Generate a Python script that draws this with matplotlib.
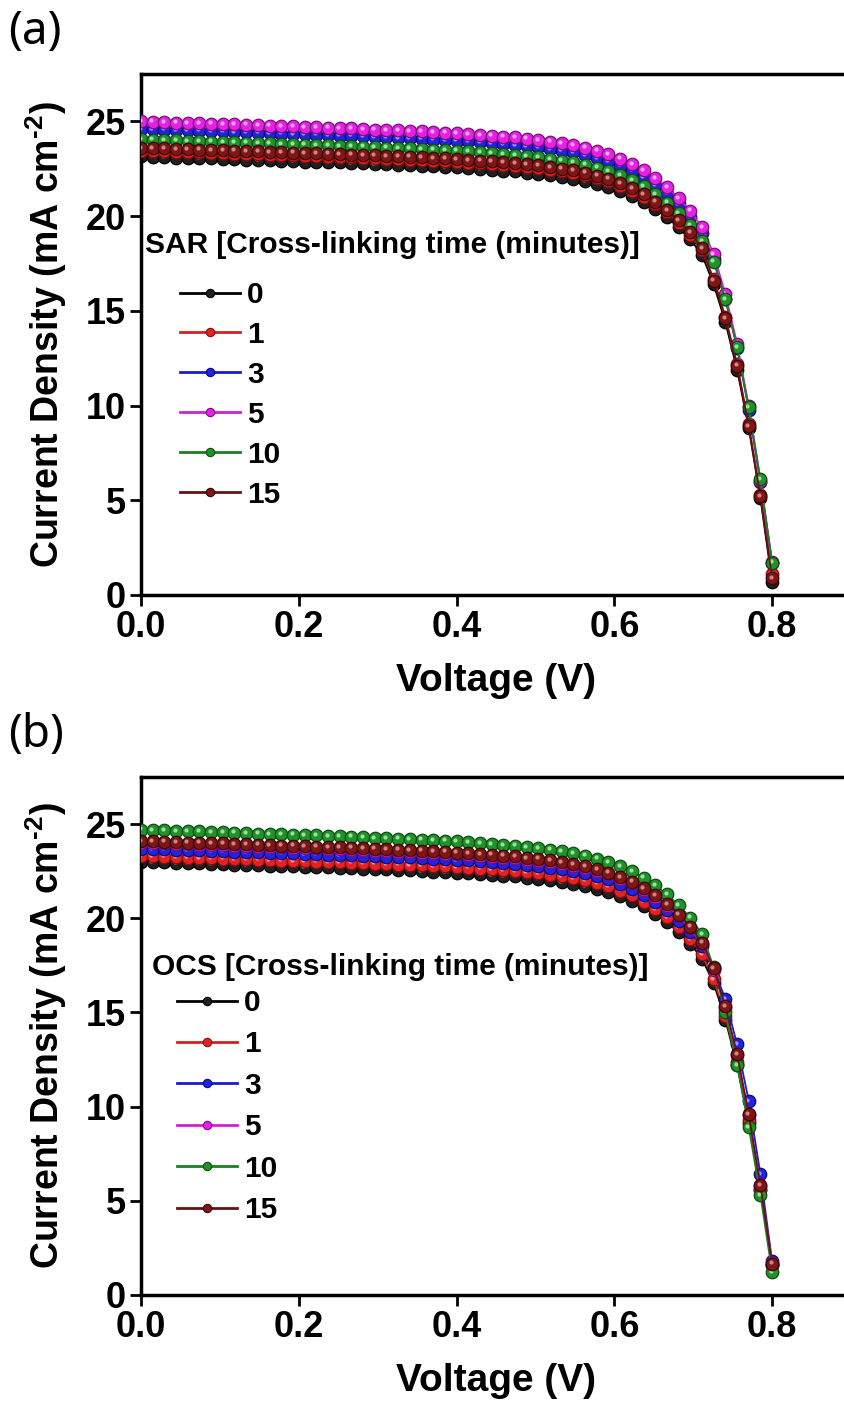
import matplotlib
matplotlib.use("Agg")
import matplotlib.pyplot as plt
from matplotlib.lines import Line2D
from matplotlib.transforms import offset_copy

plt.rcParams['font.family'] = ['Liberation Sans', 'DejaVu Sans']
plt.rcParams['font.weight'] = 'bold'
plt.rcParams['mathtext.fontset'] = 'custom'
plt.rcParams['mathtext.rm'] = 'Liberation Sans:bold'
plt.rcParams['mathtext.bf'] = 'Liberation Sans:bold'
plt.rcParams['mathtext.default'] = 'bf'

# ---------------- data ----------------
voltage = [0.0000, 0.0148, 0.0296, 0.0444, 0.0593, 0.0741, 0.0889, 0.1037, 0.1185, 0.1333,
           0.1481, 0.1630, 0.1778, 0.1926, 0.2074, 0.2222, 0.2370, 0.2519, 0.2667, 0.2815,
           0.2963, 0.3111, 0.3259, 0.3407, 0.3556, 0.3704, 0.3852, 0.4000, 0.4148, 0.4296,
           0.4444, 0.4593, 0.4741, 0.4889, 0.5037, 0.5185, 0.5333, 0.5481, 0.5630, 0.5778,
           0.5926, 0.6074, 0.6222, 0.6370, 0.6519, 0.6667, 0.6815, 0.6963, 0.7111, 0.7259,
           0.7407, 0.7556, 0.7704, 0.7852, 0.8000]

series_labels = ['0', '1', '3', '5', '10', '15']

# Panel (a): SAR
sar_0 = [23.15, 23.13, 23.12, 23.09, 23.08, 23.07, 23.04, 23.03, 23.00, 22.98,
         22.96, 22.95, 22.92, 22.91, 22.88, 22.87, 22.84, 22.83, 22.81, 22.78,
         22.75, 22.73, 22.71, 22.69, 22.66, 22.62, 22.60, 22.57, 22.53, 22.49,
         22.45, 22.40, 22.36, 22.30, 22.24, 22.16, 22.08, 21.98, 21.86, 21.71,
         21.55, 21.33, 21.08, 20.76, 20.37, 19.94, 19.40, 18.78, 17.96, 16.40,
         14.40, 11.90, 8.80, 5.10, 0.70]
sar_1 = [23.45, 23.43, 23.42, 23.39, 23.37, 23.36, 23.33, 23.32, 23.30, 23.28,
         23.26, 23.24, 23.21, 23.20, 23.18, 23.17, 23.14, 23.12, 23.10, 23.07,
         23.05, 23.03, 23.00, 22.98, 22.95, 22.91, 22.90, 22.86, 22.82, 22.78,
         22.74, 22.69, 22.65, 22.59, 22.53, 22.45, 22.36, 22.27, 22.15, 22.00,
         21.83, 21.60, 21.35, 21.03, 20.64, 20.20, 19.65, 19.02, 18.20, 16.70,
         14.70, 12.20, 9.00, 5.30, 1.10]
sar_3 = [24.60, 24.58, 24.57, 24.54, 24.52, 24.51, 24.48, 24.47, 24.44, 24.42,
         24.40, 24.38, 24.35, 24.34, 24.31, 24.30, 24.27, 24.25, 24.24, 24.21,
         24.18, 24.16, 24.13, 24.11, 24.08, 24.04, 24.02, 23.98, 23.94, 23.90,
         23.85, 23.80, 23.76, 23.69, 23.64, 23.55, 23.46, 23.36, 23.23, 23.07,
         22.90, 22.66, 22.40, 22.06, 21.65, 21.19, 20.62, 19.96, 19.09, 17.71,
         15.64, 13.06, 9.79, 5.94, 1.69]
sar_5 = [25.00, 24.98, 24.97, 24.94, 24.92, 24.91, 24.88, 24.87, 24.84, 24.82,
         24.80, 24.78, 24.75, 24.74, 24.71, 24.70, 24.67, 24.65, 24.63, 24.60,
         24.57, 24.55, 24.52, 24.50, 24.47, 24.43, 24.41, 24.37, 24.33, 24.29,
         24.24, 24.19, 24.15, 24.08, 24.02, 23.93, 23.84, 23.74, 23.61, 23.45,
         23.27, 23.03, 22.76, 22.42, 22.00, 21.53, 20.95, 20.28, 19.40, 18.00,
         15.89, 13.27, 9.95, 6.04, 1.72]
sar_10 = [24.05, 24.03, 24.02, 23.99, 23.97, 23.96, 23.93, 23.92, 23.90, 23.88,
          23.86, 23.84, 23.81, 23.80, 23.77, 23.76, 23.73, 23.71, 23.69, 23.67,
          23.64, 23.62, 23.59, 23.57, 23.54, 23.50, 23.48, 23.45, 23.41, 23.37,
          23.32, 23.27, 23.23, 23.17, 23.11, 23.02, 22.93, 22.84, 22.71, 22.56,
          22.39, 22.16, 21.90, 21.57, 21.16, 20.71, 20.15, 19.51, 18.66, 17.60,
          15.60, 13.10, 9.90, 6.10, 1.70]
sar_15 = [23.60, 23.58, 23.57, 23.54, 23.52, 23.51, 23.48, 23.47, 23.45, 23.43,
          23.41, 23.39, 23.36, 23.35, 23.33, 23.32, 23.29, 23.27, 23.25, 23.23,
          23.20, 23.18, 23.15, 23.13, 23.10, 23.07, 23.05, 23.01, 22.97, 22.93,
          22.89, 22.84, 22.80, 22.74, 22.68, 22.60, 22.51, 22.42, 22.29, 22.14,
          21.97, 21.74, 21.48, 21.16, 20.77, 20.33, 19.78, 19.14, 18.31, 16.60,
          14.60, 12.10, 8.90, 5.20, 0.90]

# Panel (b): OCS
ocs_0 = [23.00, 22.98, 22.97, 22.94, 22.92, 22.91, 22.88, 22.87, 22.85, 22.83,
         22.81, 22.79, 22.77, 22.76, 22.73, 22.72, 22.70, 22.68, 22.66, 22.63,
         22.60, 22.59, 22.56, 22.54, 22.51, 22.48, 22.46, 22.42, 22.38, 22.35,
         22.30, 22.25, 22.22, 22.16, 22.10, 22.02, 21.93, 21.84, 21.72, 21.57,
         21.41, 21.19, 20.94, 20.63, 20.24, 19.81, 19.27, 18.66, 17.85, 16.56,
         14.62, 12.21, 9.15, 5.56, 1.58]
ocs_1 = [23.30, 23.28, 23.27, 23.24, 23.22, 23.21, 23.18, 23.17, 23.15, 23.13,
         23.11, 23.09, 23.06, 23.05, 23.02, 23.01, 22.99, 22.97, 22.95, 22.93,
         22.90, 22.88, 22.85, 22.83, 22.81, 22.77, 22.75, 22.72, 22.68, 22.64,
         22.59, 22.55, 22.51, 22.44, 22.39, 22.31, 22.22, 22.13, 22.01, 21.86,
         21.69, 21.46, 21.21, 20.89, 20.50, 20.07, 19.53, 18.90, 18.08, 16.78,
         14.81, 12.37, 9.27, 5.63, 1.60]
ocs_3 = [23.70, 23.68, 23.67, 23.64, 23.62, 23.61, 23.58, 23.57, 23.54, 23.52,
         23.50, 23.48, 23.45, 23.44, 23.42, 23.41, 23.38, 23.36, 23.34, 23.32,
         23.29, 23.27, 23.24, 23.23, 23.20, 23.16, 23.14, 23.10, 23.07, 23.03,
         22.98, 22.93, 22.90, 22.83, 22.77, 22.69, 22.60, 22.51, 22.39, 22.23,
         22.06, 21.83, 21.58, 21.25, 20.86, 20.42, 19.87, 19.25, 18.55, 17.35,
         15.70, 13.30, 10.30, 6.40, 1.80]
ocs_5 = [24.00, 23.98, 23.97, 23.94, 23.92, 23.91, 23.88, 23.87, 23.85, 23.83,
         23.81, 23.79, 23.76, 23.75, 23.72, 23.71, 23.68, 23.66, 23.64, 23.62,
         23.59, 23.57, 23.54, 23.52, 23.49, 23.45, 23.43, 23.39, 23.36, 23.32,
         23.27, 23.22, 23.18, 23.12, 23.06, 22.97, 22.89, 22.79, 22.67, 22.51,
         22.34, 22.11, 21.85, 21.52, 21.12, 20.67, 20.11, 19.47, 18.62, 17.28,
         15.25, 12.74, 9.55, 5.80, 1.70]
ocs_10 = [24.70, 24.68, 24.67, 24.64, 24.62, 24.61, 24.58, 24.57, 24.54, 24.52,
          24.50, 24.48, 24.45, 24.44, 24.41, 24.40, 24.37, 24.35, 24.33, 24.30,
          24.27, 24.25, 24.23, 24.21, 24.18, 24.14, 24.12, 24.08, 24.04, 24.00,
          23.95, 23.90, 23.86, 23.79, 23.73, 23.64, 23.55, 23.45, 23.33, 23.17,
          22.99, 22.75, 22.49, 22.15, 21.74, 21.27, 20.70, 20.04, 19.17, 17.40,
          15.00, 12.20, 8.90, 5.30, 1.20]
ocs_15 = [24.10, 24.08, 24.07, 24.04, 24.02, 24.01, 23.98, 23.97, 23.95, 23.93,
          23.91, 23.89, 23.86, 23.85, 23.82, 23.81, 23.79, 23.77, 23.75, 23.72,
          23.69, 23.67, 23.64, 23.62, 23.59, 23.55, 23.53, 23.49, 23.45, 23.42,
          23.37, 23.32, 23.28, 23.21, 23.16, 23.07, 22.98, 22.89, 22.76, 22.61,
          22.43, 22.20, 21.94, 21.61, 21.21, 20.76, 20.20, 19.55, 18.70, 17.35,
          15.32, 12.79, 9.59, 5.82, 1.66]

panel_a_series = [sar_0, sar_1, sar_3, sar_5, sar_10, sar_15]
panel_b_series = [ocs_0, ocs_1, ocs_3, ocs_5, ocs_10, ocs_15]

x_ticks = [0.0, 0.2, 0.4, 0.6, 0.8]
y_ticks = [0, 5, 10, 15, 20, 25]

# ---------------- style ----------------
face_colors = ['#202020', '#e52222', '#2222e0', '#e322e3', '#21922a', '#7d1616']
edge_colors = ['#000000', '#8a0a0a', '#0a0a78', '#7e0a7e', '#0b4d10', '#3d0404']
line_colors = ['#000000', '#d42020', '#1a1ad0', '#d020d0', '#1c7f22', '#6a1010']
hi_colors = ['#9a9a9a', '#ff9a9a', '#9a9aff', '#ffa6ff', '#9ae09f', '#d08585']

W, H = 845, 1407
fig = plt.figure(figsize=(W / 100, H / 100), dpi=100)

def px_axes(left, top, right, bottom):
    return fig.add_axes([left / W, 1 - bottom / H, (right - left) / W, (bottom - top) / H])

ax_a = px_axes(141, 74, 851, 595)
ax_b = px_axes(141, 777, 851, 1295)

panels = [
    (ax_a, panel_a_series, 'SAR [Cross-linking time (minutes)]', '(a)',
     (145, 245), (180, 281), 32, 0.40),
    (ax_b, panel_b_series, 'OCS [Cross-linking time (minutes)]', '(b)',
     (152, 967), (177, 989), 735, 0.45),
]

for ax, series, legtitle, tag, title_px, leg_px, tag_y, lspace in panels:
    hi_trans = offset_copy(ax.transData, fig=fig, x=-1.3, y=1.3, units='dots')
    for k, ys in enumerate(series):
        ax.plot(voltage, ys, '-', color=line_colors[k], lw=1.3, zorder=2 + 2 * k,
                marker='o', ms=9.0, mfc=face_colors[k], mec=edge_colors[k], mew=0.9)
        ax.plot(voltage, ys, 'o', ms=3.0, mfc=hi_colors[k], mec='none',
                transform=hi_trans, zorder=3 + 2 * k)

    ax.set_xlim(0, 0.9)
    ax.set_ylim(0, 27.5)
    ax.set_xticks(x_ticks)
    ax.set_xticklabels([f'{v:.1f}' for v in x_ticks])
    ax.set_yticks(y_ticks)
    ax.set_yticklabels([str(v) for v in y_ticks])
    ax.tick_params(direction='out', length=8, width=2, labelsize=26, pad=3)
    for side in ['left', 'bottom', 'top', 'right']:
        ax.spines[side].set_linewidth(2.5)

    ax.set_xlabel('Voltage (V)', fontsize=28, fontweight='bold', labelpad=13)
    ax.set_ylabel(r'Current Density (mA cm$^{\text{-2}}$)', fontsize=27,
                  fontweight='bold', labelpad=12)

    # legend title
    fig.text(title_px[0] / W, 1 - title_px[1] / H, legtitle, fontsize=21.5,
             fontweight='bold', ha='left', va='center')
    handles = [Line2D([], [], color=line_colors[k], lw=2, marker='o', ms=6,
                      mfc=face_colors[k], mec=edge_colors[k], mew=0.8)
               for k in range(len(series))]
    ax.legend(handles, series_labels, loc='upper left',
              bbox_to_anchor=(leg_px[0] / W, 1 - leg_px[1] / H),
              bbox_transform=fig.transFigure, frameon=False,
              fontsize=21.5, handlelength=2.0, handletextpad=0.25,
              labelspacing=lspace, borderpad=0, borderaxespad=0)

    fig.text(8 / W, 1 - tag_y / H, tag, fontsize=33, fontweight='normal',
             family=['Noto Sans', 'DejaVu Sans'], ha='left', va='center')

fig.savefig('out.png', dpi=100)
